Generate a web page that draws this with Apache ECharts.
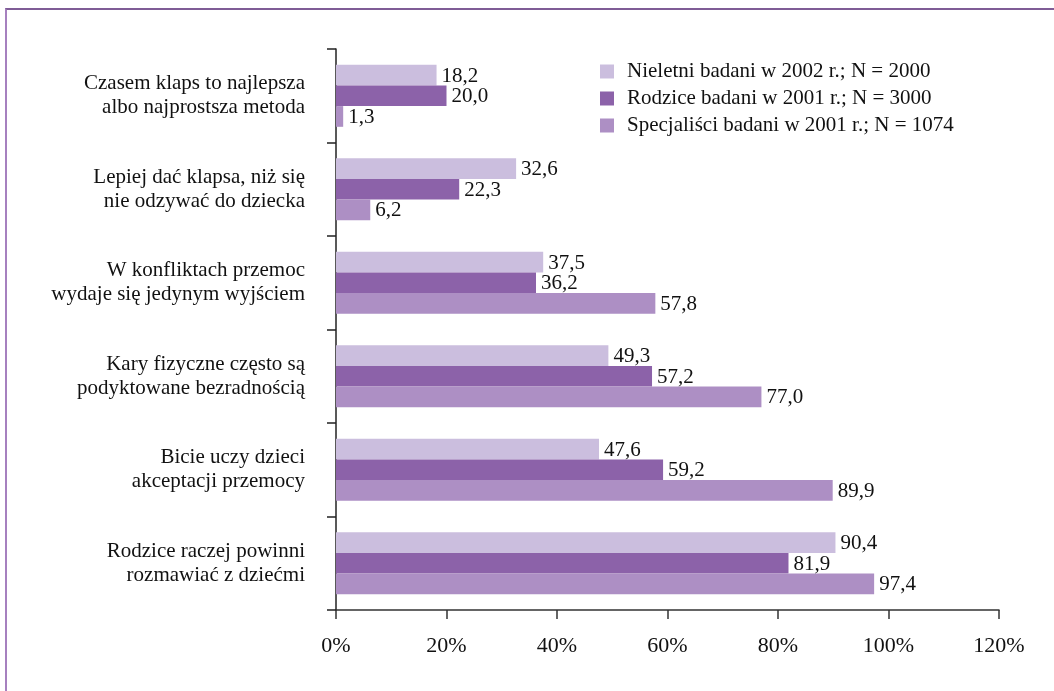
<!DOCTYPE html>
<html lang="pl">
  <head>
    <meta charset="UTF-8" />
    <title>Kary fizyczne</title>
    <script src="https://cdn.jsdelivr.net/npm/echarts@6.0.0/dist/echarts.min.js"></script>
    <style>
      body {
        margin: 0;
        background: #fff;
      }
      #main {
        width: 1054px;
        height: 691px;
      }
      .frame {
        position: absolute;
        left: 5px;
        top: 8px;
        width: 1100px;
        height: 800px;
        border-left: 2px solid #a680bf;
        border-top: 2px solid #7f5c96;
        pointer-events: none;
      }
    </style>
  </head>
  <body>
    <div id="main"></div>
    <div class="frame"></div>

    <script>
      const categories = [
        "Czasem klaps to najlepsza\nalbo najprostsza metoda",
        "Lepiej dać klapsa, niż się\nnie odzywać do dziecka",
        "W konfliktach przemoc\nwydaje się jedynym wyjściem",
        "Kary fizyczne często są\npodyktowane bezradnością",
        "Bicie uczy dzieci\nakceptacji przemocy",
        "Rodzice raczej powinni\nrozmawiać z dziećmi",
      ];
      const seriesNames = [
        "Nieletni badani w 2002 r.; N = 2000",
        "Rodzice badani w 2001 r.; N = 3000",
        "Specjaliści badani w 2001 r.; N = 1074",
      ];
      const nieletni = [18.2, 32.6, 37.5, 49.3, 47.6, 90.4];
      const rodzice = [20.0, 22.3, 36.2, 57.2, 59.2, 81.9];
      const specjalisci = [1.3, 6.2, 57.8, 77.0, 89.9, 97.4];
      const colors = ["#cbbede", "#8c62a9", "#ad8fc4"];

      const font = "'Liberation Serif', 'DejaVu Serif', serif";
      const chart = echarts.init(document.getElementById("main"));

      function barSeries(name, data, color) {
        return {
          name: name,
          type: "bar",
          data: data,
          barWidth: 20.7,
          barGap: "0%",
          itemStyle: { color: color },
          label: {
            show: true,
            position: "right",
            distance: 5,
            offset: [0, 1],
            color: "#111",
            fontFamily: font,
            fontSize: 21,
            formatter: (p) => p.value.toFixed(1).replace(".", ","),
          },
        };
      }

      chart.setOption({
        animation: false,
        textStyle: { fontFamily: font },
        grid: { left: 336, right: 55, top: 49, bottom: 81 },
        legend: {
          orient: "vertical",
          left: 595,
          top: 56,
          itemWidth: 14,
          itemHeight: 14,
          itemGap: 6,
          icon: "rect",
          data: seriesNames,
          textStyle: {
            fontFamily: font,
            fontSize: 21,
            lineHeight: 21,
            color: "#111",
            padding: [0, 0, 0, 8],
          },
        },
        xAxis: {
          type: "value",
          min: 0,
          max: 120,
          interval: 20,
          splitLine: { show: false },
          axisLine: { show: true, lineStyle: { color: "#333", width: 1.5 } },
          axisTick: { show: true, length: 9, lineStyle: { color: "#333", width: 1.5 } },
          axisLabel: {
            formatter: "{value}%",
            color: "#111",
            fontFamily: font,
            fontSize: 22,
            margin: 25,
          },
        },
        yAxis: {
          type: "category",
          inverse: true,
          data: categories,
          axisLine: { show: true, lineStyle: { color: "#222", width: 1.5 } },
          axisTick: { show: true, length: 9, lineStyle: { color: "#222", width: 1.5 } },
          axisLabel: {
            color: "#111",
            fontFamily: font,
            fontSize: 21,
            lineHeight: 24,
            margin: 31,
            align: "right",
          },
        },
        series: [
          barSeries(seriesNames[0], nieletni, colors[0]),
          barSeries(seriesNames[1], rodzice, colors[1]),
          barSeries(seriesNames[2], specjalisci, colors[2]),
        ],
      });
    </script>
  </body>
</html>
